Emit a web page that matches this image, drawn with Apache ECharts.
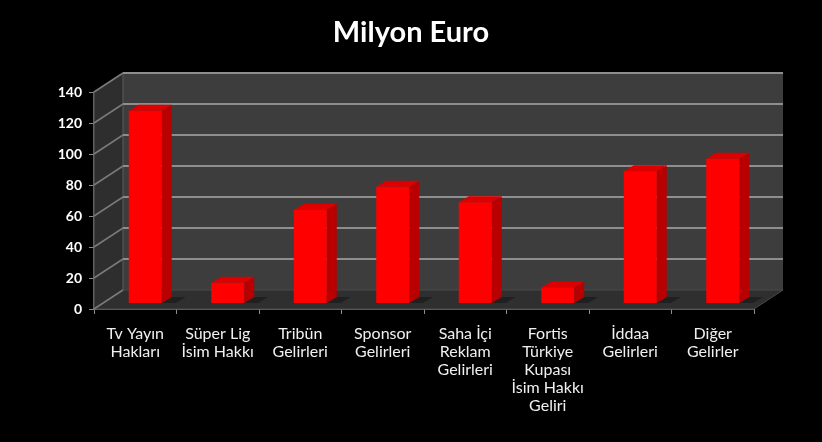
<!DOCTYPE html>
<html><head><meta charset="utf-8">
<script src="https://cdn.jsdelivr.net/npm/echarts@6/dist/echarts.min.js"></script>
<style>html,body{margin:0;padding:0;background:#000}#c{width:822px;height:442px}</style>
</head><body><div id="c"></div>
<script>
const titleText = 'Milyon Euro';
const categories = ['Tv Yayın\nHakları', 'Süper Lig\nİsim Hakkı', 'Tribün\nGelirleri', 'Sponsor\nGelirleri', 'Saha İçi\nReklam\nGelirleri', 'Fortis\nTürkiye\nKupası\nİsim Hakkı\nGeliri', 'İddaa\nGelirleri', 'Diğer\nGelirler'];
const values = [124, 13, 60, 75, 65, 10, 85, 93];
const yTicks = [0, 20, 40, 60, 80, 100, 120, 140];

const DX = 29, DY = -19;   // wall depth offset
const BOX = 10, BOY = -6;  // bar front plane offset
const BDX = 10, BDY = -6;  // bar depth

const chart = echarts.init(document.getElementById('c'));

function renderWalls(params, api) {
  const cs = params.coordSys;
  const x = cs.x, y = cs.y, w = cs.width, h = cs.height;
  const children = [];
  children.push({type: 'rect', shape: {x: x + DX, y: y + DY, width: w, height: h}, style: {fill: '#3d3d3d'}});
  children.push({type: 'polygon', shape: {points: [[x, y + h], [x + DX, y + h + DY], [x + DX, y + DY], [x, y]]}, style: {fill: '#2e2e2e', stroke: '#5c5c5c', lineWidth: 1}});
  children.push({type: 'polygon', shape: {points: [[x, y + h], [x + w, y + h], [x + w + DX, y + h + DY], [x + DX, y + h + DY]]}, style: {fill: '#2f2f2f', stroke: '#4a4a4a', lineWidth: 1}});
  yTicks.forEach(function (v) {
    const yy = api.coord([0, v])[1];
    if (v > 0) {
      children.push({type: 'line', shape: {x1: x + DX, y1: yy + DY, x2: x + w + DX, y2: yy + DY}, style: {stroke: '#8e8e8e', lineWidth: 2}});
    }
    children.push({type: 'line', shape: {x1: x, y1: yy, x2: x + DX, y2: yy + DY}, style: {stroke: '#7a7a7a', lineWidth: 1.5}});
  });
  return {type: 'group', children: children};
}

function renderBar(params, api) {
  const i = api.value(0), v = api.value(1);
  const c0 = api.coord([i, 0]);
  const c1 = api.coord([i, v]);
  const bw = api.size([1, 0])[0] * 0.4;
  const xl = c0[0] + BOX - bw / 2, xr = xl + bw;
  const yb = c0[1] + BOY, yt = c1[1] + BOY;
  return {type: 'group', children: [
    {type: 'polygon', shape: {points: [[xr, yb], [xr + 14, yb], [xr + 14 + BDX, yb + BDY], [xr + BDX, yb + BDY]]}, style: {fill: 'rgba(0,0,0,0.3)'}},
    {type: 'polygon', shape: {points: [[xr, yb], [xr + BDX, yb + BDY], [xr + BDX, yt + BDY], [xr, yt]]}, style: {fill: '#b80000'}},
    {type: 'polygon', shape: {points: [[xl, yt], [xr, yt], [xr + BDX, yt + BDY], [xl + BDX, yt + BDY]]}, style: {fill: '#dc0000'}},
    {type: 'rect', shape: {x: xl, y: yt, width: bw, height: yb - yt}, style: {fill: '#ff0000'}}
  ]};
}

chart.setOption({
  backgroundColor: '#000000',
  animation: false,
  title: {text: titleText, left: 'center', top: 13, textStyle: {color: '#ffffff', fontFamily: 'Lato', fontWeight: 'bold', fontSize: 29}},
  grid: {left: 94, right: 68, top: 92, bottom: 133, containLabel: false},
  xAxis: {
    type: 'category', data: categories,
    axisLine: {lineStyle: {color: '#8a8a8a', width: 1.5}},
    axisTick: {show: true, length: 5, lineStyle: {color: '#8a8a8a'}},
    axisLabel: {color: '#f0f0f0', fontFamily: 'Lato', fontSize: 16, lineHeight: 18, margin: 16, interval: 0},
    splitLine: {show: false}
  },
  yAxis: {
    type: 'value', min: yTicks[0], max: yTicks[yTicks.length - 1], interval: 20,
    axisLine: {show: true, lineStyle: {color: '#8a8a8a', width: 1.5}},
    axisTick: {show: true, length: 5, lineStyle: {color: '#8a8a8a'}},
    axisLabel: {color: '#ffffff', fontFamily: 'Lato', fontWeight: 'bold', fontSize: 14, margin: 12},
    splitLine: {show: false}
  },
  series: [
    {type: 'custom', z: 1, silent: true, renderItem: renderWalls, data: [[0, 0]], encode: {x: 0, y: 1}},
    {type: 'custom', z: 3, renderItem: renderBar, data: values.map(function (v, i) { return [i, v]; }), encode: {x: 0, y: 1}}
  ]
});
</script></body></html>
